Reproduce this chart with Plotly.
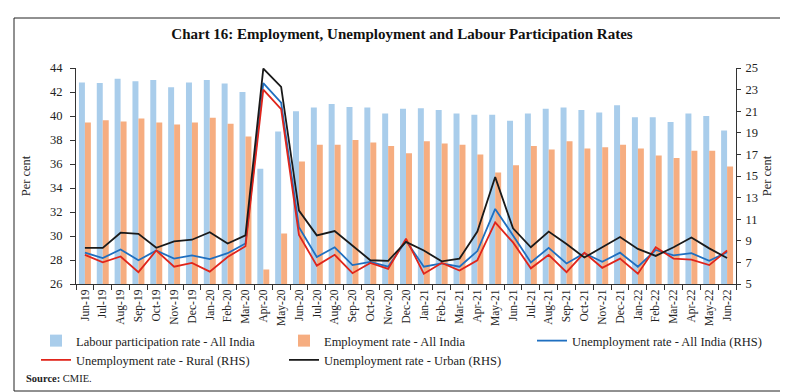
import plotly.graph_objects as go

months = ["Jun-19","Jul-19","Aug-19","Sep-19","Oct-19","Nov-19","Dec-19","Jan-20","Feb-20","Mar-20",
          "Apr-20","May-20","Jun-20","Jul-20","Aug-20","Sep-20","Oct-20","Nov-20","Dec-20","Jan-21",
          "Feb-21","Mar-21","Apr-21","May-21","Jun-21","Jul-21","Aug-21","Sep-21","Oct-21","Nov-21",
          "Dec-21","Jan-22","Feb-22","Mar-22","Apr-22","May-22","Jun-22"]

lfpr = [42.8, 42.75, 43.1, 42.9, 43.0, 42.4, 42.8, 43.0, 42.7, 42.0,
        35.6, 38.7, 40.4, 40.7, 41.0, 40.75, 40.7, 40.2, 40.6, 40.65,
        40.5, 40.2, 40.1, 40.1, 39.6, 40.2, 40.6, 40.7, 40.5, 40.3,
        40.9, 39.9, 39.9, 39.5, 40.2, 40.0, 38.8]

emp = [39.45, 39.65, 39.55, 39.8, 39.45, 39.3, 39.45, 39.85, 39.35, 38.3,
       27.2, 30.2, 36.2, 37.6, 37.6, 38.0, 37.8, 37.5, 36.9, 37.9,
       37.7, 37.6, 36.8, 35.3, 35.9, 37.5, 37.2, 37.9, 37.3, 37.4,
       37.6, 37.3, 36.7, 36.5, 37.1, 37.1, 35.8]

ur_all = [7.9, 7.4, 8.2, 7.2, 8.1, 7.35, 7.65, 7.3, 7.85, 8.75,
          23.6, 21.8, 10.25, 7.5, 8.4, 6.75, 7.05, 6.6, 9.0, 6.6,
          6.9, 6.6, 8.05, 11.95, 9.5, 7.0, 8.35, 6.9, 7.85, 7.05,
          7.9, 6.6, 8.15, 7.65, 7.85, 7.15, 7.95]

ur_rural = [7.7, 7.0, 7.55, 6.1, 8.1, 6.6, 6.95, 6.15, 7.5, 8.5,
            23.0, 21.2, 9.55, 6.7, 7.7, 6.0, 6.95, 6.4, 9.2, 5.95,
            6.95, 6.25, 7.2, 10.7, 8.85, 6.45, 7.7, 6.1, 7.9, 6.5,
            7.35, 5.95, 8.4, 7.35, 7.25, 6.75, 8.1]

ur_urban = [8.35, 8.35, 9.75, 9.65, 8.35, 8.95, 9.1, 9.8, 8.75, 9.5,
            24.95, 23.25, 11.8, 9.5, 9.9, 8.55, 7.2, 7.15, 8.9, 8.1,
            7.1, 7.35, 9.85, 14.9, 10.15, 8.4, 9.85, 8.7, 7.45, 8.4,
            9.35, 8.25, 7.6, 8.4, 9.3, 8.3, 7.4]

left_ticks = list(range(26, 45, 2))
right_ticks = list(range(5, 26, 2))

FONT = "Liberation Serif"
TXT = "#222222"

fig = go.Figure()
fig.add_trace(go.Bar(x=months, y=lfpr, name="Labour participation rate - All India",
                     marker=dict(color="#A9CDEB", line=dict(width=0)), legend="legend"))
fig.add_trace(go.Bar(x=months, y=emp, name="Employment rate - All India",
                     marker=dict(color="#F6AD80", line=dict(width=0)), legend="legend2"))
fig.add_trace(go.Scatter(x=months, y=ur_all, name="Unemployment rate - All India (RHS)",
                         mode="lines", line=dict(color="#1F6FC0", width=1.8), yaxis="y2",
                         legend="legend3"))
fig.add_trace(go.Scatter(x=months, y=ur_rural, name="Unemployment rate - Rural (RHS)",
                         mode="lines", line=dict(color="#E0251B", width=1.8), yaxis="y2",
                         legend="legend"))
fig.add_trace(go.Scatter(x=months, y=ur_urban, name="Unemployment rate - Urban (RHS)",
                         mode="lines", line=dict(color="#1A1A1A", width=1.8), yaxis="y2",
                         legend="legend2"))

W, H = 788, 392
L, R, T, B = 68, 60, 60, 116
pw, ph = W - L - R, H - T - B

def px_x(x):
    return (x - L) / pw

def px_y(y):
    return (H - B - y) / ph

def leg(xpx, ypx):
    return dict(orientation="v", x=px_x(xpx), y=px_y(ypx), xanchor="left", yanchor="top",
                itemwidth=30, font=dict(family=FONT, size=12.5, color=TXT),
                traceorder="normal", bgcolor="rgba(0,0,0,0)", tracegroupgap=0)

fig.update_layout(
    width=W, height=H,
    margin=dict(l=L, r=R, t=T, b=B, autoexpand=False),
    paper_bgcolor="white", plot_bgcolor="white",
    font=dict(family=FONT, color=TXT, size=12),
    barmode="group", bargap=0.33, bargroupgap=0,
    showlegend=True,
    legend=leg(28, 318),
    legend2=leg(276, 318),
    legend3=leg(524, 318),
    title=dict(text="<b>Chart 16: Employment, Unemployment and Labour Participation Rates</b>",
               x=0.5, xref="container", y=1 - 26 / H, yref="container",
               xanchor="center", yanchor="middle",
               font=dict(family=FONT, size=15, color="#111111")),
    xaxis=dict(type="category", range=[-0.5, len(months) - 0.5], tickangle=-90,
               showline=True, linecolor="#333333", linewidth=1,
               ticks="outside", ticklen=5, tickcolor="#333333", tickson="boundaries",
               tickfont=dict(family=FONT, size=11.5, color=TXT), showgrid=False),
    yaxis=dict(range=[26, 44], tickvals=left_ticks, showline=True, linecolor="#333333",
               linewidth=1, ticks="outside", ticklen=5, tickcolor="#333333",
               showgrid=False, zeroline=False, ticklabelstandoff=5,
               tickfont=dict(family=FONT, size=12.5, color=TXT),
               title=dict(text="Per cent", font=dict(family=FONT, size=12.5, color=TXT), standoff=16)),
    yaxis2=dict(range=[5, 25], tickvals=right_ticks, overlaying="y", side="right",
                showline=True, linecolor="#333333", linewidth=1, ticks="outside", ticklen=4,
                tickcolor="#333333", showgrid=False, zeroline=False, ticklabelstandoff=2,
                tickfont=dict(family=FONT, size=12.5, color=TXT),
                title=dict(text="Per cent", font=dict(family=FONT, size=12.5, color=TXT), standoff=5)),
    shapes=[dict(type="rect", xref="paper", yref="paper",
                 x0=px_x(6), x1=px_x(781), y0=px_y(383), y1=px_y(10),
                 line=dict(color="#222222", width=1), fillcolor="rgba(0,0,0,0)", layer="below")],
    annotations=[dict(text="<b>Source:</b> CMIE.", xref="paper", yref="paper",
                      x=px_x(16), y=px_y(370), xanchor="left", yanchor="middle", showarrow=False,
                      font=dict(family=FONT, size=10.5, color=TXT))],
)

fig.write_html("out.html")
